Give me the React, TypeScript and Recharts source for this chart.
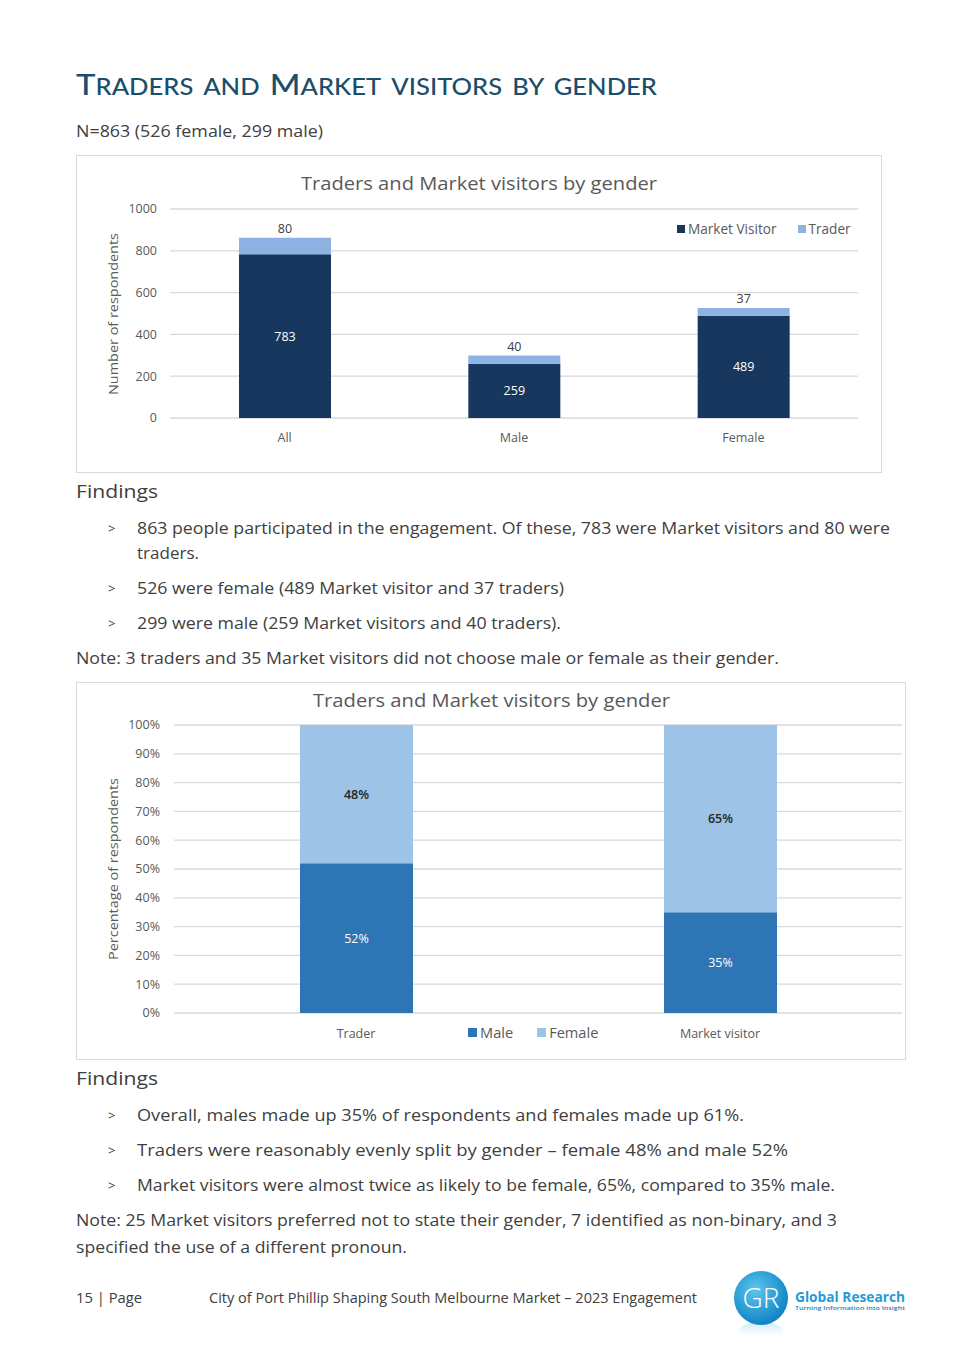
import React from 'react';
import { BarChart, Bar, XAxis, YAxis, CartesianGrid, Legend, LabelList } from 'recharts';

// chart 1: counts by gender
const genderCats = ['All', 'Male', 'Female'];
const marketVisitorCounts = [783, 259, 489];
const traderCounts = [80, 40, 37];
const countTicks = [0, 200, 400, 600, 800, 1000];

// chart 2: share by role
const roleCats = ['Trader', 'Market visitor'];
const malePct = [52, 35];
const femalePct = [48, 65];
const pctTicks = [0, 10, 20, 30, 40, 50, 60, 70, 80, 90, 100];

const countData = genderCats.map((c, i) => ({ cat: c, visitor: marketVisitorCounts[i], trader: traderCounts[i] }));
const pctData = roleCats.map((c, i) => ({ cat: c, male: malePct[i], female: femalePct[i] }));

const BODY = '"Open Sans", sans-serif';
const TXT = '#404040';
const AX = '#595959';
const GRID = '#d9d9d9';

const T = ({ x, y, w, size = 17, fill = TXT, weight = 400, family = BODY, children }: any) => (
  <text x={x} y={y} fontSize={size} fill={fill} fontWeight={weight} fontFamily={family}
    textLength={w} lengthAdjust="spacingAndGlyphs">{children}</text>
);

const Bullet = ({ y }: { y: number }) => (
  <text x={108} y={y} fontSize={13} fill={TXT} fontFamily={BODY}>&gt;</text>
);

const tickStyle = { fontSize: 12.5, fill: AX, fontFamily: BODY };

// legend drawn in the order the series were given, with Excel-like spacing
const legendContent = (gap: number, sq: number, fs: number) => (props: any) => (
  <div style={{ display: 'flex', gap, fontFamily: BODY, fontSize: fs, color: AX, whiteSpace: 'nowrap' }}>
    {(props.payload || []).map((p: any) => (
      <span key={p.value} style={{ display: 'flex', alignItems: 'center', gap: 3 }}>
        <span style={{ width: sq, height: sq, background: p.color, display: 'inline-block' }} />
        {p.value}
      </span>
    ))}
  </div>
);

const CountChart = () => (
  <BarChart width={806} height={318} data={countData}
    margin={{ top: 54, right: 24, bottom: 25, left: 30 }}>
    <CartesianGrid vertical={false} stroke={GRID} strokeWidth={1.3} />
    <XAxis dataKey="cat" axisLine={false} tickLine={false} tick={tickStyle} tickMargin={9} />
    <YAxis width={64} domain={[0, 1000]} ticks={countTicks} interval={0}
      axisLine={false} tickLine={false} tick={tickStyle} tickMargin={7} />
    <Legend layout="horizontal" verticalAlign="middle" align="center" itemSorter={null as any}
      wrapperStyle={{ top: 64, left: 601, width: 'auto' }}
      content={legendContent(21, 8, 13.6)} />
    <Bar dataKey="visitor" name="Market Visitor" stackId="a" fill="#17375e" barSize={92} isAnimationActive={false}>
      <LabelList dataKey="visitor" position="center" fill="#ffffff" fontSize={12.5} fontFamily={BODY} />
    </Bar>
    <Bar dataKey="trader" name="Trader" stackId="a" fill="#8db3e2" barSize={92} isAnimationActive={false}>
      <LabelList dataKey="trader" position="top" fill={TXT} fontSize={12.5} fontFamily={BODY} />
    </Bar>
  </BarChart>
);

const PctChart = () => (
  <BarChart width={830} height={378} data={pctData}
    margin={{ top: 43, right: 4, bottom: 17, left: 34 }}>
    <CartesianGrid vertical={false} stroke={GRID} strokeWidth={1.3} />
    <XAxis dataKey="cat" axisLine={false} tickLine={false} tick={tickStyle} tickMargin={10} />
    <YAxis width={64} domain={[0, 100]} ticks={pctTicks} interval={0} tickFormatter={(v: number) => `${v}%`}
      axisLine={false} tickLine={false} tick={tickStyle} tickMargin={8} />
    <Legend layout="horizontal" verticalAlign="middle" align="center" itemSorter={null as any}
      wrapperStyle={{ top: 340, left: 392, width: 'auto' }}
      content={legendContent(24, 9, 14.6)} />
    <Bar dataKey="male" name="Male" stackId="p" fill="#2e75b6" barSize={113} isAnimationActive={false}>
      <LabelList dataKey="male" position="center" fill="#ffffff" fontSize={12.5} fontFamily={BODY}
        formatter={(v: number) => `${v}%`} />
    </Bar>
    <Bar dataKey="female" name="Female" stackId="p" fill="#9dc3e6" barSize={113} isAnimationActive={false}>
      <LabelList dataKey="female" position="center" fill="#262626" fontSize={12.5} fontWeight={600} fontFamily={BODY}
        formatter={(v: number) => `${v}%`} />
    </Bar>
  </BarChart>
);

const box = (left: number, top: number, width: number, height: number): React.CSSProperties => ({
  position: 'absolute', left, top, width, height, border: `1px solid ${GRID}`, boxSizing: 'border-box', background: '#fff',
});

// heading: large initials, small capitals for the rest
const headingWords = ['Traders', 'and', 'Market', 'visitors', 'by', 'gender'];

export default function App() {
  return (
    <div style={{ position: 'absolute', left: 0, top: 0, width: 956, height: 1369, background: '#fff', overflow: 'hidden' }}>
      <div style={box(76, 155, 806, 318)}>
        <div style={{ position: 'absolute', left: -1, top: -1 }}><CountChart /></div>
      </div>
      <div style={box(76, 682, 830, 378)}>
        <div style={{ position: 'absolute', left: -1, top: -1 }}><PctChart /></div>
      </div>

      <svg width={956} height={1369} style={{ position: 'absolute', left: 0, top: 0, pointerEvents: 'none' }}>
        <defs>
          <radialGradient id="logoG" cx="40%" cy="35%" r="70%">
            <stop offset="0%" stopColor="#5cc6ee" />
            <stop offset="100%" stopColor="#0b7fc2" />
          </radialGradient>
          <linearGradient id="refl" x1="0" y1="0" x2="0" y2="1">
            <stop offset="0%" stopColor="#9fd6ef" stopOpacity={0.6} />
            <stop offset="100%" stopColor="#ffffff" stopOpacity={0} />
          </linearGradient>
        </defs>

        <text x={76} y={95} fill="#1b4e6b" fontWeight={500} fontFamily="Lato, sans-serif"
          textLength={581} lengthAdjust="spacingAndGlyphs">
          {headingWords.map((w, i) => {
            const big = w[0] === w[0].toUpperCase();
            const dx = i > 0 ? 9 : 0;
            return (
              <React.Fragment key={i}>
                {big ? <tspan dx={dx} fontSize={29}>{w[0]}</tspan> : null}
                <tspan dx={big ? 0 : dx} fontSize={22.5}>{(big ? w.slice(1) : w).toUpperCase()}</tspan>
              </React.Fragment>
            );
          })}
        </text>
        <T x={76} y={137} w={247}>N=863 (526 female, 299 male)</T>

        {/* chart 1 titles */}
        <T x={301} y={190} w={356} size={19} fill={AX}>Traders and Market visitors by gender</T>
        <text transform="rotate(-90 118 314)" x={118} y={314} textAnchor="middle" fontSize={13} fill={AX}
          fontFamily={BODY} textLength={162} lengthAdjust="spacingAndGlyphs">Number of respondents</text>

        <T x={76} y={498} w={82} size={18}>Findings</T>
        <Bullet y={533} />
        <T x={137} y={534} w={753}>863 people participated in the engagement. Of these, 783 were Market visitors and 80 were</T>
        <T x={137} y={559} w={62}>traders.</T>
        <Bullet y={593} />
        <T x={137} y={594} w={427}>526 were female (489 Market visitor and 37 traders)</T>
        <Bullet y={628} />
        <T x={137} y={629} w={424}>299 were male (259 Market visitors and 40 traders).</T>
        <T x={76} y={664} w={703}>Note: 3 traders and 35 Market visitors did not choose male or female as their gender.</T>

        {/* chart 2 titles */}
        <T x={313} y={707} w={357} size={19} fill={AX}>Traders and Market visitors by gender</T>
        <text transform="rotate(-90 118 869)" x={118} y={869} textAnchor="middle" fontSize={13} fill={AX}
          fontFamily={BODY} textLength={182} lengthAdjust="spacingAndGlyphs">Percentage of respondents</text>

        <T x={76} y={1085} w={82} size={18}>Findings</T>
        <Bullet y={1120} />
        <T x={137} y={1121} w={607}>Overall, males made up 35% of respondents and females made up 61%.</T>
        <Bullet y={1155} />
        <T x={137} y={1156} w={651}>Traders were reasonably evenly split by gender – female 48% and male 52%</T>
        <Bullet y={1190} />
        <T x={137} y={1191} w={698}>Market visitors were almost twice as likely to be female, 65%, compared to 35% male.</T>
        <T x={76} y={1226} w={761}>Note: 25 Market visitors preferred not to state their gender, 7 identified as non-binary, and 3</T>
        <T x={76} y={1253} w={331}>specified the use of a different pronoun.</T>

        {/* footer */}
        <T x={76} y={1303} w={66} size={14}>15 | Page</T>
        <T x={209} y={1303} w={488} size={14}>City of Port Phillip Shaping South Melbourne Market – 2023 Engagement</T>

        <ellipse cx={761} cy={1331} rx={22} ry={9} fill="url(#refl)" />
        <circle cx={761} cy={1298} r={27} fill="url(#logoG)" />
        <text x={761} y={1308} textAnchor="middle" fontSize={28} fontWeight={300} fill="#ffffff"
          fontFamily={BODY}>GR</text>
        <T x={795} y={1302} w={110} size={14} fill="#1f9bd7" weight={700}>Global Research</T>
        <T x={795} y={1310} w={110} size={6} fill="#1f7fb8" weight={600}>Turning Information into Insight</T>
      </svg>
    </div>
  );
}
